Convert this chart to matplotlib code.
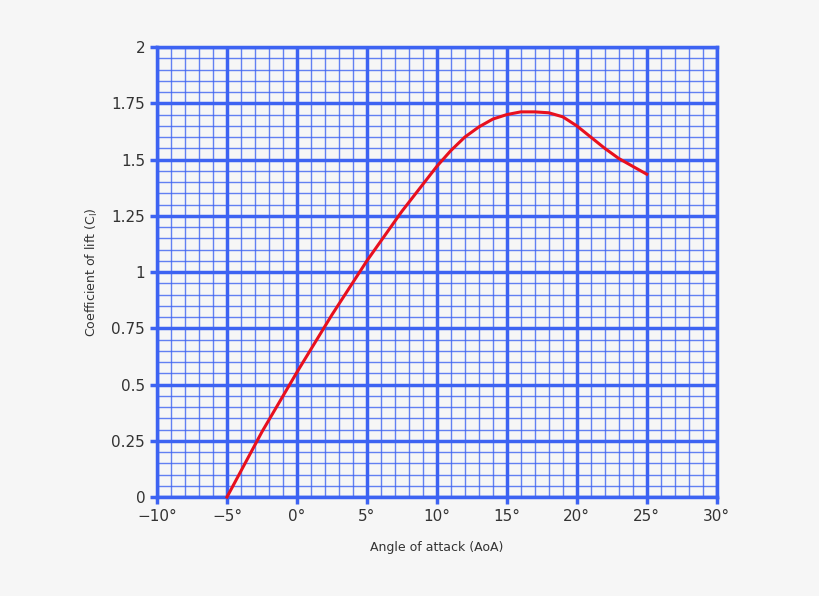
import matplotlib
matplotlib.use("Agg")
import matplotlib.pyplot as plt
from matplotlib.ticker import MultipleLocator, FuncFormatter

aoa = [-5, -2.5, 0, 2.5, 5, 7.5, 10, 11, 12, 13, 14, 15, 16, 17, 18, 19, 20, 21, 22, 23, 24, 25]
cl = [0.0, 0.29, 0.555, 0.81, 1.05, 1.27, 1.47, 1.54, 1.60, 1.645, 1.68, 1.70, 1.712, 1.712, 1.708, 1.69, 1.65, 1.60, 1.55, 1.505, 1.47, 1.435]
x_ticks = [-10, -5, 0, 5, 10, 15, 20, 25, 30]
y_ticks = [0, 0.25, 0.5, 0.75, 1, 1.25, 1.5, 1.75, 2]

blue = '#3d63f2'
fig = plt.figure(figsize=(8.2, 5.96), dpi=100, facecolor='#f6f6f6')
ax = fig.add_axes([0.1915, 0.166, 0.6825, 0.755])
ax.set_facecolor('#f6f6f6')
ax.set_xlim(-10, 30)
ax.set_ylim(0, 2)
ax.set_xticks(x_ticks)
ax.set_yticks(y_ticks)
ax.xaxis.set_minor_locator(MultipleLocator(1))
ax.yaxis.set_minor_locator(MultipleLocator(0.05))
ax.xaxis.set_major_formatter(FuncFormatter(lambda v, p: ('\u2212' if v < 0 else '') + f"{abs(int(v))}°"))
ax.yaxis.set_major_formatter(FuncFormatter(lambda v, p: f"{v:g}"))
ax.grid(which='major', color=blue, lw=2.5)
ax.grid(which='minor', color=blue, lw=1, alpha=0.8)
for s in ax.spines.values():
    s.set_color(blue)
    s.set_linewidth(2.5)
ax.tick_params(which='major', color=blue, width=2.5, length=5, labelsize=11, labelcolor='#333333')
ax.tick_params(which='minor', length=0)
ax.set_axisbelow(True)
ax.plot(aoa, cl, color='#e8101e', lw=2.2, zorder=5, clip_on=False)
ax.set_xlabel('Angle of attack (AoA)', fontsize=9, color='#333333', labelpad=12)
ax.set_ylabel('Coefficient of lift (C$_\\mathrm{l}$)', fontsize=9, color='#333333', labelpad=8)
fig.savefig('out.png', dpi=100, facecolor=fig.get_facecolor())
